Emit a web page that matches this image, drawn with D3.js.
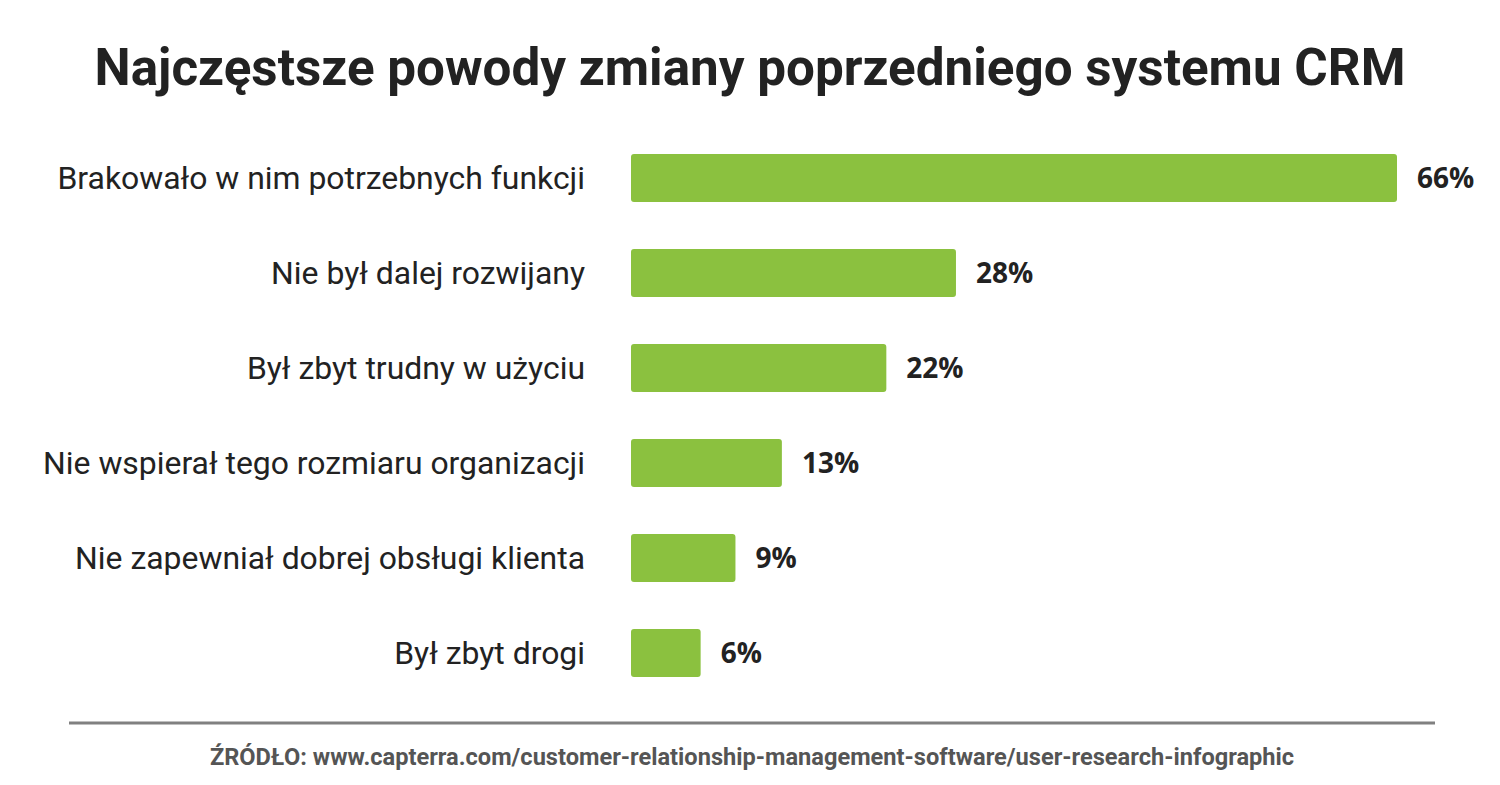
<!DOCTYPE html>
<html>
<head>
<meta charset="utf-8">
<script src="https://cdn.jsdelivr.net/npm/d3@7"></script>
<style>
  body { margin: 0; background: #fff; }
  svg { display: block; }
</style>
</head>
<body>
<div id="chart"></div>
<script>
var categories = [
    "Brakowało w nim potrzebnych funkcji",
    "Nie był dalej rozwijany",
    "Był zbyt trudny w użyciu",
    "Nie wspierał tego rozmiaru organizacji",
    "Nie zapewniał dobrej obsługi klienta",
    "Był zbyt drogi"
];
var values = [66, 28, 22, 13, 9, 6];

var title = "Najczęstsze powody zmiany poprzedniego systemu CRM";
var source = "ŹRÓDŁO: www.capterra.com/customer-relationship-management-software/user-research-infographic";

function init() {
    var w = 1500;
    var h = 785;

    var svg = d3.select("#chart")
                .append("svg")
                .attr("width", w)
                .attr("height", h);

    var xscale = d3.scaleLinear()
                   .domain([0, 66])
                   .range([631, 1397]);

    var yscale = d3.scaleBand()
                   .domain(categories)
                   .range([154, 677])
                   .paddingInner(0.495)
                   .paddingOuter(0);

    svg.append("text")
        .attr("x", 750)
        .attr("y", 85)
        .attr("text-anchor", "middle")
        .attr("font-family", "Roboto")
        .attr("font-weight", "bold")
        .attr("font-size", 51.2)
        .attr("fill", "#222")
        .text(title);

    var rows = categories.map(function(c, i) { return { cat: c, val: values[i] }; });

    svg.selectAll("rect.bar")
        .data(rows)
        .enter()
        .append("rect")
        .attr("class", "bar")
        .attr("x", xscale(0))
        .attr("y", function(d) { return yscale(d.cat); })
        .attr("width", function(d) { return xscale(d.val) - xscale(0); })
        .attr("height", yscale.bandwidth())
        .attr("rx", 3)
        .attr("fill", "#8bc13f");

    // category labels, right aligned
    svg.selectAll("text.cat")
        .data(rows)
        .enter()
        .append("text")
        .attr("class", "cat")
        .attr("x", 585)
        .attr("y", function(d) { return yscale(d.cat) + yscale.bandwidth() / 2; })
        .attr("dy", "0.36em")
        .attr("text-anchor", "end")
        .attr("font-family", "Roboto")
        .attr("font-size", 31.9)
        .attr("fill", "#222")
        .text(function(d) { return d.cat; });

    svg.selectAll("text.val")
        .data(rows)
        .enter()
        .append("text")
        .attr("class", "val")
        .attr("x", function(d) { return xscale(d.val) + 20; })
        .attr("y", function(d) { return yscale(d.cat) + yscale.bandwidth() / 2; })
        .attr("dy", "0.36em")
        .attr("font-family", "Open Sans")
        .attr("font-weight", "bold")
        .attr("font-size", 28)
        .attr("fill", "#222")
        .text(function(d) { return d.val + "%"; });

    svg.append("line")
        .attr("x1", 69)
        .attr("x2", 1435)
        .attr("y1", 723)
        .attr("y2", 723)
        .attr("stroke", "#808080")
        .attr("stroke-width", 3);

    svg.append("text")
        .attr("x", 752)
        .attr("y", 765)
        .attr("text-anchor", "middle")
        .attr("font-family", "Roboto")
        .attr("font-weight", "bold")
        .attr("font-size", 23.6)
        .attr("fill", "#555")
        .text(source);
}

window.onload = init;
</script>
</body>
</html>
